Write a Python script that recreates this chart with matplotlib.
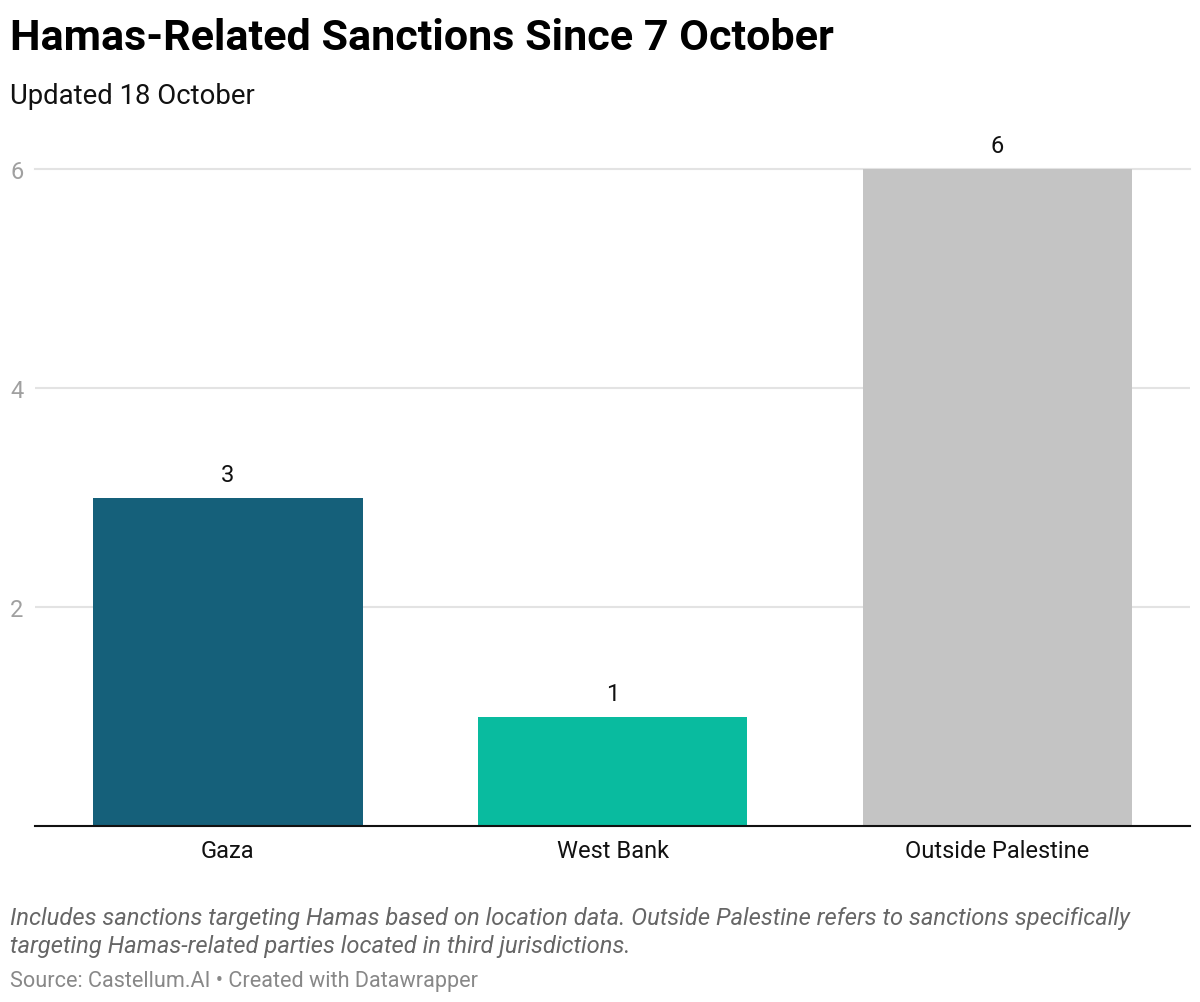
import matplotlib
matplotlib.use("Agg")
import matplotlib.pyplot as plt

categories = ["Gaza", "West Bank", "Outside Palestine"]
values = [3, 1, 6]
bar_colors = ["#15607a", "#09bb9f", "#c4c4c4"]
y_ticks = [2, 4, 6]

plt.rcParams['font.family'] = ['Roboto', 'DejaVu Sans']
W, H = 1200, 1003
fig = plt.figure(figsize=(W/100, H/100), dpi=100, facecolor="white")
ax = fig.add_axes([35.4/W, 1-827/H, (1190-35.4)/W, (827-170)/H])
ax.set_xlim(-0.5, 2.5)
ax.set_ylim(0, 6)
ax.bar(range(3), values, width=0.7, color=bar_colors, zorder=3)
for s in ["top", "left", "right"]:
    ax.spines[s].set_visible(False)
ax.spines["bottom"].set_color("#111111")
ax.spines["bottom"].set_linewidth(1.5)
ax.spines["bottom"].set_zorder(4)
ax.set_yticks(y_ticks)
ax.set_yticklabels([str(t) for t in y_ticks], fontsize=17, color="#a0a0a0", ha="center")
ax.tick_params(axis="y", length=0, pad=13.25)
ax.tick_params(axis="x", length=0, pad=9.5)
ax.set_xticks(range(3))
ax.set_xticklabels(categories, fontsize=17, color="#111111")
ax.grid(axis="y", color="#e3e3e3", linewidth=1.5, zorder=0)
ax.set_axisbelow(True)
ax.yaxis.get_gridlines()[-1].set_clip_on(False)
for i, v in enumerate(values):
    ax.annotate(str(v), (i, v), xytext=(0, 16.8), textcoords="offset points", ha="center", va="center",
                fontsize=17, color="#111111", annotation_clip=False)

fig.text(10/W, 1-38/H, "Hamas-Related Sanctions Since 7 October", fontsize=31.1, fontweight="bold", color="#000000", va="center", ha="left")
fig.text(10/W, 1-97/H, "Updated 18 October", fontsize=19.85, color="#111111", va="center", ha="left")
fig.text(10/W, 1-919/H, "Includes sanctions targeting Hamas based on location data. Outside Palestine refers to sanctions specifically", fontsize=17.12, style="italic", color="#666666", va="center", ha="left")
fig.text(10/W, 1-947/H, "targeting Hamas-related parties located in third jurisdictions.", fontsize=17.12, style="italic", color="#666666", va="center", ha="left")
fig.text(10/W, 1-982/H, "Source: Castellum.AI • Created with Datawrapper", fontsize=15.55, color="#888888", va="center", ha="left")
fig.savefig("out.png", dpi=100)
